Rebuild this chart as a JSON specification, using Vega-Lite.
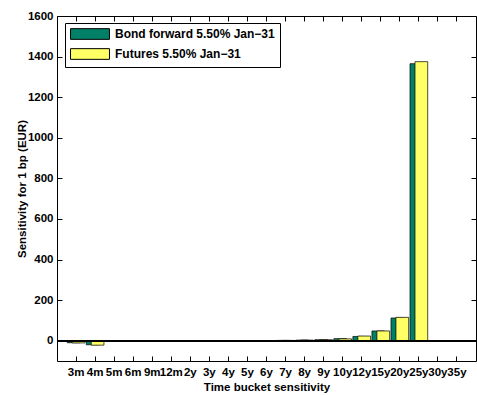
{
  "$schema": "https://vega.github.io/schema/vega-lite/v6.json",
  "width": 419,
  "height": 345,
  "autosize": {"type": "none"},
  "padding": {"left": 57, "top": 16, "right": 1, "bottom": 34},
  "background": "white",
  "config": {
    "font": "Liberation Sans",
    "view": {"stroke": "black", "strokeWidth": 1},
    "axis": {
      "labelFont": "Liberation Sans",
      "labelFontWeight": "bold",
      "labelFontSize": 11.5,
      "labelColor": "black",
      "titleFont": "Liberation Sans",
      "titleFontWeight": "bold",
      "titleFontSize": 11.5,
      "titleColor": "black",
      "domain": false,
      "grid": false,
      "tickColor": "black",
      "tickWidth": 1,
      "tickSize": 5
    },
    "legend": {
      "labelFont": "Liberation Sans",
      "labelFontWeight": "bold",
      "labelFontSize": 12,
      "labelColor": "black"
    }
  },
  "data": {
    "values": [
      {"bucket": "3m", "series": "Bond forward 5.50% Jan−31", "value": -10},
      {"bucket": "3m", "series": "Futures 5.50% Jan−31", "value": -11},
      {"bucket": "4m", "series": "Bond forward 5.50% Jan−31", "value": -20},
      {"bucket": "4m", "series": "Futures 5.50% Jan−31", "value": -22},
      {"bucket": "5m", "series": "Bond forward 5.50% Jan−31", "value": -1},
      {"bucket": "5m", "series": "Futures 5.50% Jan−31", "value": -1},
      {"bucket": "6m", "series": "Bond forward 5.50% Jan−31", "value": -1},
      {"bucket": "6m", "series": "Futures 5.50% Jan−31", "value": -1},
      {"bucket": "9m", "series": "Bond forward 5.50% Jan−31", "value": -1},
      {"bucket": "9m", "series": "Futures 5.50% Jan−31", "value": -1},
      {"bucket": "12m", "series": "Bond forward 5.50% Jan−31", "value": -1},
      {"bucket": "12m", "series": "Futures 5.50% Jan−31", "value": -1},
      {"bucket": "2y", "series": "Bond forward 5.50% Jan−31", "value": -0.5},
      {"bucket": "2y", "series": "Futures 5.50% Jan−31", "value": 0},
      {"bucket": "3y", "series": "Bond forward 5.50% Jan−31", "value": 0},
      {"bucket": "3y", "series": "Futures 5.50% Jan−31", "value": 0},
      {"bucket": "4y", "series": "Bond forward 5.50% Jan−31", "value": 0.5},
      {"bucket": "4y", "series": "Futures 5.50% Jan−31", "value": 0.5},
      {"bucket": "5y", "series": "Bond forward 5.50% Jan−31", "value": 0.5},
      {"bucket": "5y", "series": "Futures 5.50% Jan−31", "value": 0.5},
      {"bucket": "6y", "series": "Bond forward 5.50% Jan−31", "value": 1},
      {"bucket": "6y", "series": "Futures 5.50% Jan−31", "value": 1},
      {"bucket": "7y", "series": "Bond forward 5.50% Jan−31", "value": 1.5},
      {"bucket": "7y", "series": "Futures 5.50% Jan−31", "value": 1.5},
      {"bucket": "8y", "series": "Bond forward 5.50% Jan−31", "value": 3},
      {"bucket": "8y", "series": "Futures 5.50% Jan−31", "value": 3},
      {"bucket": "9y", "series": "Bond forward 5.50% Jan−31", "value": 5},
      {"bucket": "9y", "series": "Futures 5.50% Jan−31", "value": 5},
      {"bucket": "10y", "series": "Bond forward 5.50% Jan−31", "value": 10},
      {"bucket": "10y", "series": "Futures 5.50% Jan−31", "value": 9},
      {"bucket": "12y", "series": "Bond forward 5.50% Jan−31", "value": 21},
      {"bucket": "12y", "series": "Futures 5.50% Jan−31", "value": 23},
      {"bucket": "15y", "series": "Bond forward 5.50% Jan−31", "value": 48},
      {"bucket": "15y", "series": "Futures 5.50% Jan−31", "value": 48},
      {"bucket": "20y", "series": "Bond forward 5.50% Jan−31", "value": 112},
      {"bucket": "20y", "series": "Futures 5.50% Jan−31", "value": 115},
      {"bucket": "25y", "series": "Bond forward 5.50% Jan−31", "value": 1365},
      {"bucket": "25y", "series": "Futures 5.50% Jan−31", "value": 1375},
      {"bucket": "30y", "series": "Bond forward 5.50% Jan−31", "value": 1},
      {"bucket": "30y", "series": "Futures 5.50% Jan−31", "value": 1},
      {"bucket": "35y", "series": "Bond forward 5.50% Jan−31", "value": 1},
      {"bucket": "35y", "series": "Futures 5.50% Jan−31", "value": 1}
    ]
  },
  "resolve": {"axis": {"x": "independent", "y": "independent"}},
  "layer": [
    {
      "mark": {"type": "bar", "width": 12.7, "stroke": "black", "strokeWidth": 0.7},
      "encoding": {
        "x": {
          "field": "bucket",
          "type": "nominal",
          "sort": null,
          "scale": {"paddingInner": 0.2, "paddingOuter": 0.6},
          "axis": {"orient": "bottom", "offset": -5, "labelAngle": 0, "labelPadding": 5, "title": "Time bucket sensitivity", "titlePadding": 4}
        },
        "xOffset": {
          "field": "series",
          "type": "nominal",
          "sort": null,
          "scale": {"paddingInner": 0, "paddingOuter": 0.524}
        },
        "y": {
          "field": "value",
          "type": "quantitative",
          "scale": {"domain": [-100, 1600], "nice": false, "zero": false},
          "axis": {"orient": "left", "offset": -5, "format": "d", "values": [0, 200, 400, 600, 800, 1000, 1200, 1400, 1600], "labelPadding": 4, "title": "Sensitivity for 1 bp (EUR)", "titlePadding": 0}
        },
        "color": {
          "field": "series",
          "type": "nominal",
          "sort": null,
          "scale": {"range": ["#008066", "#ffff66"]},
          "legend": {
            "title": null,
            "orient": "none",
            "legendX": 8,
            "legendY": 7,
            "padding": 5,
            "fillColor": "white",
            "strokeColor": "black",
            "symbolType": "M-3.64,-1H3.64V1H-3.64Z",
            "symbolSize": 114.5,
            "symbolOffset": 14,
            "symbolStrokeColor": "black",
            "symbolStrokeWidth": 1,
            "symbolOpacity": 1,
            "rowPadding": 4,
            "labelOffset": 19,
            "labelLimit": 300
          }
        }
      }
    },
    {
      "mark": {"type": "rule", "color": "black", "strokeWidth": 1},
      "encoding": {"y": {"datum": 0, "type": "quantitative", "axis": null}}
    },
    {
      "mark": {"type": "bar", "opacity": 0},
      "encoding": {
        "x": {
          "field": "bucket",
          "type": "nominal",
          "sort": null,
          "axis": {"orient": "top", "offset": -5, "labels": false, "title": null}
        },
        "y": {
          "field": "value",
          "type": "quantitative",
          "axis": {"orient": "right", "offset": -5, "values": [0, 200, 400, 600, 800, 1000, 1200, 1400, 1600], "labels": false, "title": null}
        }
      }
    }
  ]
}
